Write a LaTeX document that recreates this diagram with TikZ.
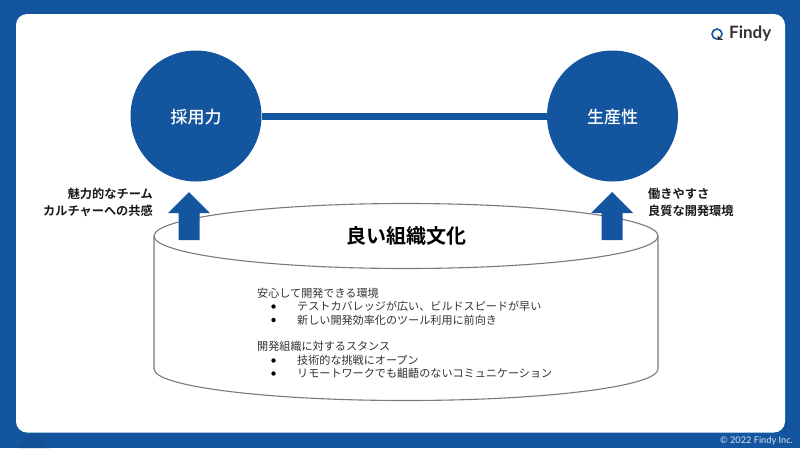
\documentclass[tikz,border=0pt]{standalone}
\usepackage{fontspec}
\setmainfont{Noto Sans CJK JP}[BoldFont={Noto Sans CJK JP Bold}]
\newfontfamily\hubfont{Noto Sans CJK JP Medium}
\newfontfamily\latinfont{Lato}
\definecolor{findyblue}{HTML}{14559F}
\definecolor{textgray}{HTML}{333333}
\definecolor{edgegray}{HTML}{7A7A7A}
\tikzset{
  hub/.style={circle,fill=findyblue,minimum size=131pt,inner sep=0pt,text=white,font=\hubfont\fontsize{17}{20}\selectfont},
  link/.style={draw=findyblue,line width=7pt},
  uparrow/.style={fill=findyblue,draw=none},
  can/.style={draw=edgegray,line width=1.1pt,fill=white},
  side/.style={inner sep=0pt,font=\bfseries\fontsize{12.2}{16.6}\selectfont,text=black!90},
  bodyline/.style={inner sep=0pt,anchor=west,font=\fontsize{11.1}{13}\selectfont,text=textgray},
  dotmark/.style={circle,fill=black,inner sep=0pt,minimum size=4.4pt},
}
\begin{document}
\begin{tikzpicture}[x=1pt,y=-1pt]
\useasboundingbox (0,0) rectangle (800,448);
\fill[findyblue] (0,0) rectangle (800,448);
% faint corner textures, outside the panel
\fill[findyblue!94!black] (18,448) -- (31,433) -- (37,433) -- (50,448) -- cycle;
\fill[findyblue!94!black] (771,433) -- (787,433) -- (787,420) -- cycle;
\fill[white,rounded corners=11pt] (16,14) rectangle (785,432.5);
% logo
\draw[findyblue,line width=1.6pt] (717,34) circle (5pt);
\fill[white] (721,37) -- (725,41) -- (717,41) -- cycle;
\fill[textgray] (717.5,35.5) -- (723,39.8) -- (718,39.8) -- cycle;
\node[inner sep=0pt,anchor=west,text=textgray,font=\latinfont\bfseries\fontsize{17}{18}\selectfont] (logo) at (729,34) {Findy};
\node[inner sep=0pt,anchor=east,text=white!85!findyblue,font=\latinfont\fontsize{9.2}{11}\selectfont] (copy) at (793,441) {© 2022 Findy Inc.};
% cylinder
\draw[can] (154,236) -- (154,369) arc[start angle=180,end angle=0,x radius=252,y radius=31.5] -- (658,236);
\draw[can] (406,236) ellipse[x radius=252,y radius=32.5];
\node[inner sep=0pt,font=\bfseries\fontsize{20}{24}\selectfont,text=black] (title) at (406,236) {良い組織文化};
% hubs
\node[hub] (recruit) at (196,116) {\raisebox{-1.5pt}[0.88em][0.12em]{採用力}};
\node[hub] (prod) at (612.5,116) {\raisebox{-1.5pt}[0.88em][0.12em]{生産性}};
\draw[link] (recruit) -- (prod);
% arrows
\fill[uparrow] (189,192) -- (210,213) -- (199.5,213) -- (199.5,240) -- (178.5,240) -- (178.5,213) -- (168,213) -- cycle;
\fill[uparrow] (612,192) -- (633,213) -- (622.5,213) -- (622.5,240) -- (601.5,240) -- (601.5,213) -- (591,213) -- cycle;
% side labels
\node[side,anchor=east] (l1) at (153,194) {魅力的なチーム};
\node[side,anchor=east] (l2) at (153,211) {カルチャーへの共感};
\node[side,anchor=west] (r1) at (648,194) {働きやすさ};
\node[side,anchor=west] (r2) at (648,211) {良質な開発環境};
% body
\node[bodyline] (b1) at (257,293) {安心して開発できる環境};
\node[dotmark] (d2) at (273.5,306.5) {};
\node[bodyline] (b2) at (297,306) {テストカバレッジが広い、ビルドスピードが早い};
\node[dotmark] (d3) at (273.5,320) {};
\node[bodyline] (b3) at (297,320) {新しい開発効率化のツール利用に前向き};
\node[bodyline] (b4) at (257,346) {開発組織に対するスタンス};
\node[dotmark] (d5) at (273.5,360.5) {};
\node[bodyline] (b5) at (297,360) {技術的な挑戦にオープン};
\node[dotmark] (d6) at (273.5,373.5) {};
\node[bodyline] (b6) at (297,373) {リモートワークでも齟齬のないコミュニケーション};
\end{tikzpicture}
\end{document}
